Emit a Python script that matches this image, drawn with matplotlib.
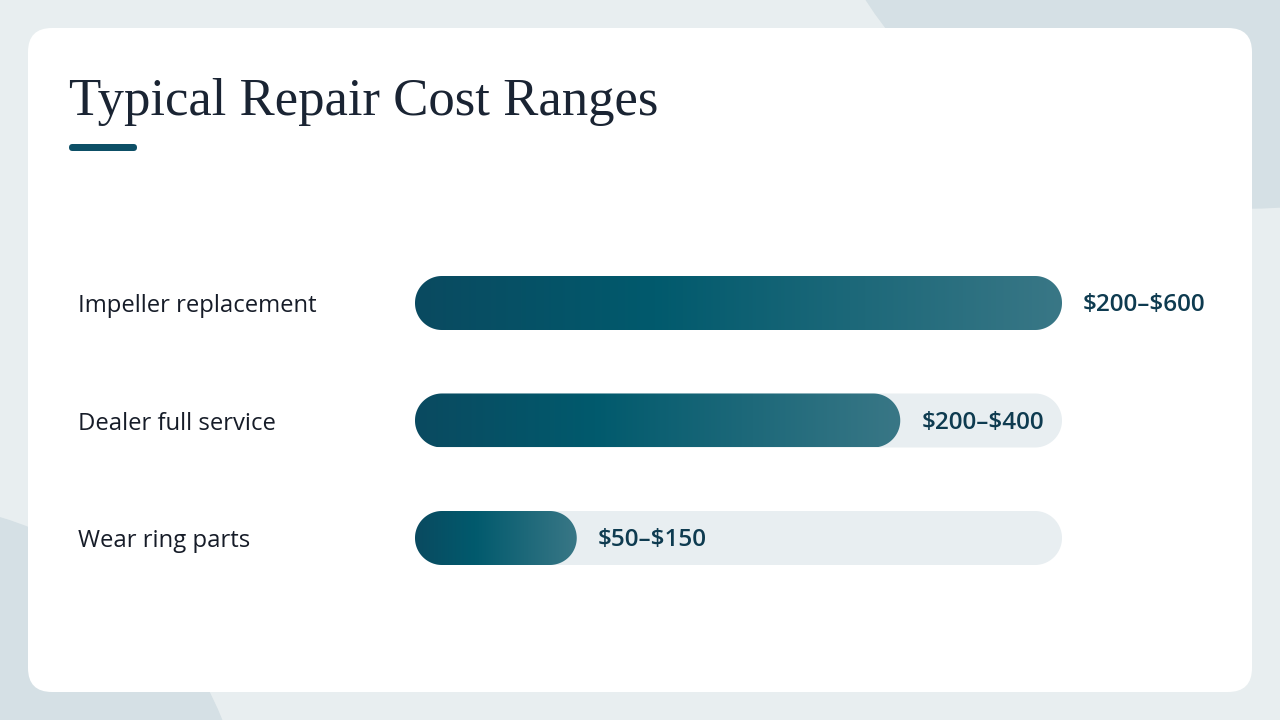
import numpy as np
import matplotlib.pyplot as plt
from matplotlib.patches import FancyBboxPatch, Circle, PathPatch
from matplotlib.path import Path
from matplotlib.colors import LinearSegmentedColormap
from matplotlib.transforms import blended_transform_factory

# data
categories = ["Impeller replacement", "Dealer full service", "Wear ring parts"]
range_labels = ["\\$200\u2013\\$600", "\\$200\u2013\\$400", "\\$50\u2013\\$150"]
fill_pct = [100, 75, 25]   # share of the track that is filled

title = "Typical Repair Cost Ranges"

W, H = 1280, 720
fig = plt.figure(figsize=(12.8, 7.2), dpi=100)

# background layer in pixel coordinates
bg = fig.add_axes([0, 0, 1, 1])
bg.set_xlim(0, W)
bg.set_ylim(H, 0)
bg.axis("off")
bg.add_patch(plt.Rectangle((0, 0), W, H, color="#e8eef0", zorder=0))
bg.add_patch(Circle((1250, -250), 458, color="#d5e0e5", zorder=1))
bg.add_patch(Circle((-100, 850), 347, color="#d5e0e5", zorder=1))
bg.add_patch(FancyBboxPatch((28, 28), 1224, 664,
                            boxstyle="round,pad=0,rounding_size=24",
                            fc="white", ec="none", zorder=2))

bg.text(69, 115, title, fontsize=38, family="Liberation Serif",
        color="#1a2433", va="baseline", ha="left", zorder=3)
bg.add_patch(FancyBboxPatch((69, 144), 68, 7,
                            boxstyle="round,pad=0,rounding_size=3.5",
                            fc="#0d4f66", ec="none", zorder=3))

# bar axes: x in percent of track, y is the row index
x0, x1 = 415, 1062
row_h = 117.5
yc = 420.5
ax = fig.add_axes([x0 / W, (H - (yc + 1.5 * row_h)) / H,
                   (x1 - x0) / W, 3 * row_h / H])
ax.set_xlim(0, 100)
ax.set_ylim(2.5, -0.5)
ax.axis("off")

px_x = (x1 - x0) / 100.0          # pixels per x unit
px_y = row_h                        # pixels per y unit
bar_px = 54


def capsule(x_start, x_end, y, h_px):
    # pill shape with true semicircular ends, built in pixels then scaled to data
    r = h_px / 2
    t = np.linspace(-np.pi / 2, np.pi / 2, 60)
    left = x_start * px_x + r
    right = x_end * px_x - r
    xs = np.concatenate([right + r * np.cos(t), left - r * np.cos(t)])
    ys = np.concatenate([r * np.sin(t), -r * np.sin(t)])
    verts = np.column_stack([xs / px_x, y + ys / px_y])
    return Path(np.vstack([verts, verts[:1]]), closed=True)


cmap = LinearSegmentedColormap.from_list(
    "teal", [(0, "#0a4a60"), (0.37, "#015a6d"), (1, "#397786")])
grad = np.linspace(0, 1, 256).reshape(1, -1)
bar_h = bar_px / px_y

for i, (pct, lab) in enumerate(zip(fill_pct, range_labels)):
    ax.add_patch(PathPatch(capsule(0, 100, i, bar_px), fc="#e8eef1",
                           ec="none", zorder=1))
    fill = PathPatch(capsule(0, pct, i, bar_px), fc="none", ec="none",
                     zorder=2)
    ax.add_patch(fill)
    im = ax.imshow(grad, cmap=cmap, aspect="auto", zorder=2,
                   extent=(0, pct, i + bar_h / 2, i - bar_h / 2))
    im.set_clip_path(fill)
    ax.text(pct + 21 / px_x, i + 2 / px_y, lab, fontsize=17.5,
            family="Open Sans", fontweight="semibold", color="#0e3b50",
            va="center", ha="left", zorder=3)

trans = blended_transform_factory(fig.transFigure, ax.transData)
for i, cat in enumerate(categories):
    ax.text(78 / W, i + 3 / px_y, cat, transform=trans, fontsize=17.2,
            family="Open Sans", fontweight="medium", color="#161c28",
            va="center", ha="left")

ax.set_ylim(2.5, -0.5)
ax.set_xlim(0, 100)

fig.savefig("out.png", dpi=100)
